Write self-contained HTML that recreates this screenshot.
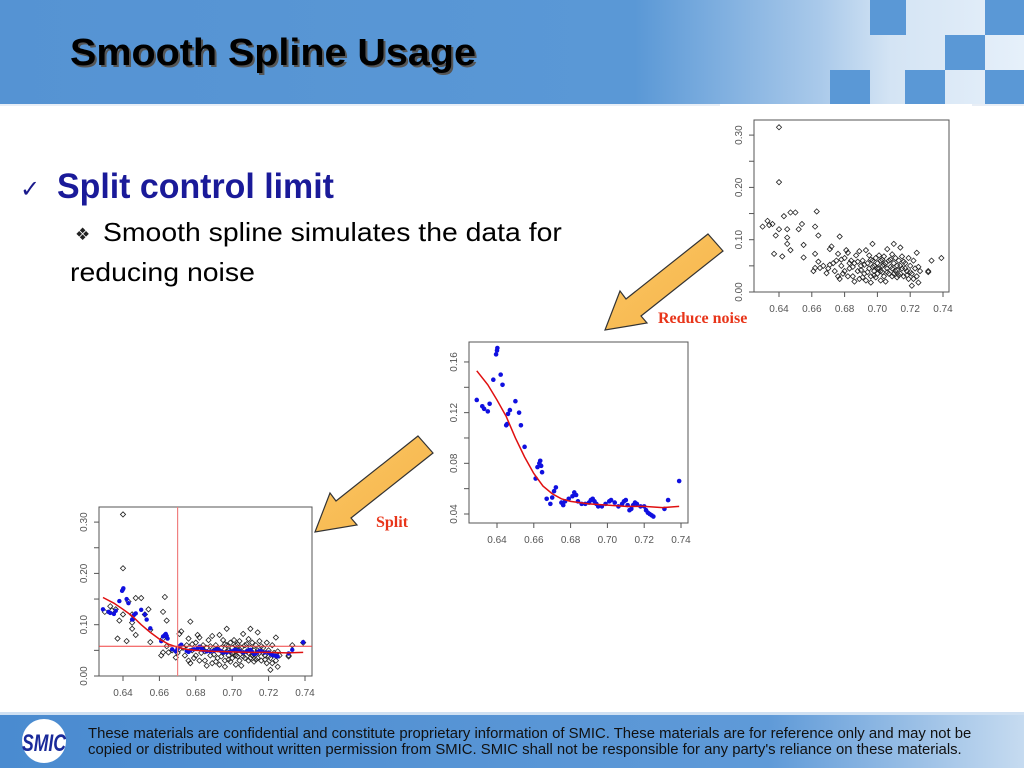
<!DOCTYPE html>
<html><head><meta charset="utf-8">
<style>
html,body{margin:0;padding:0;width:1024px;height:768px;overflow:hidden;background:#fff;font-family:"Liberation Sans",sans-serif;}
#root{position:relative;width:1024px;height:768px;}
</style></head>
<body><div id="root">
<svg width="1024" height="768" style="position:absolute;left:0;top:0">
<defs>
<linearGradient id="hdr" x1="0" x2="1" y1="0" y2="0">
<stop offset="0" stop-color="#5593d3"/><stop offset="0.62" stop-color="#5a98d6"/><stop offset="0.8" stop-color="#a9c9ea"/><stop offset="0.87" stop-color="#d4e4f4"/><stop offset="1" stop-color="#e6f0fa"/></linearGradient>
<linearGradient id="ftr" x1="0" x2="1" y1="0" y2="0">
<stop offset="0" stop-color="#4a8bd0"/><stop offset="0.75" stop-color="#5f9ad8"/><stop offset="1" stop-color="#c6dbf0"/></linearGradient>
<linearGradient id="arr" x1="0" x2="1" y1="0" y2="1"><stop offset="0" stop-color="#fbc563"/><stop offset="1" stop-color="#f6b54a"/></linearGradient>
</defs>
<g>
<rect x="0" y="0" width="1024" height="105" fill="url(#hdr)"/>
<rect x="870" y="0" width="36" height="35" fill="#5a98d6"/>
<rect x="985" y="0" width="39" height="35" fill="#5a98d6"/>
<rect x="945" y="35" width="40" height="35" fill="#5a98d6"/>
<rect x="830" y="70" width="40" height="35" fill="#5a98d6"/>
<rect x="905" y="70" width="40" height="35" fill="#5a98d6"/>
<rect x="985" y="70" width="39" height="35" fill="#5a98d6"/>
<rect x="0" y="104" width="1024" height="2" fill="#e8eef6"/>
</g>
<text class="fit" data-x="72" data-y="67" data-w="406" font-size="38" font-weight="bold" fill="#555">Smooth Spline Usage</text>
<text class="fit" data-x="70" data-y="65" data-w="406" font-size="38" font-weight="bold" fill="#000">Smooth Spline Usage</text>

<text x="20" y="197" font-size="24" fill="#1a1a8c">✓</text>
<text class="fit" data-x="57" data-y="198" data-w="277" font-size="35" font-weight="bold" fill="#1a1a99">Split control limit</text>
<text x="75" y="240" font-size="17" fill="#222">❖</text>
<text class="fit" data-x="103" data-y="241" data-w="459" font-size="26" fill="#000">Smooth spline simulates the data for</text>
<text class="fit" data-x="70" data-y="281" data-w="185" font-size="26" fill="#000">reducing noise</text>

<rect x="720" y="104" width="252" height="226" fill="#fff"/>
<g id="chartTop"></g>
<g id="chartMid"></g>
<g id="chartBot"></g>

<polygon points="708,234 723,251 641,316 647,323 605,330 620,291 626,299" fill="url(#arr)" stroke="#333" stroke-width="1.2"/>
<polygon points="418,436 433,453 351,518 357,525 315,532 330,493 336,501" fill="url(#arr)" stroke="#333" stroke-width="1.2"/>
<text x="658" y="323" font-family="Liberation Serif, serif" font-size="16" font-weight="bold" fill="#e8351a">Reduce noise</text>
<text x="376" y="527" font-family="Liberation Serif, serif" font-size="16" font-weight="bold" fill="#e8351a">Split</text>

<g>
<rect x="0" y="712" width="1024" height="56" fill="url(#ftr)"/>
<rect x="0" y="712" width="1024" height="3" fill="#cfe0f2"/>
<ellipse cx="44" cy="741" rx="22" ry="22" fill="#fff"/>
<text class="fit" data-x="22" data-y="751" data-w="44" font-size="24" font-weight="bold" font-style="italic" fill="#1a2a9a">SMIC</text>
<text class="fit" data-x="88" data-y="738" data-w="884" font-size="15" fill="#111">These materials are confidential and constitute proprietary information of SMIC.  These materials are for reference only and may not be</text>
<text class="fit" data-x="88" data-y="754" data-w="874" font-size="15" fill="#111">copied or distributed without written permission from SMIC.  SMIC shall not be responsible for any party's reliance on these materials.</text>
</g>
</svg>
</div>
<script>
// raw measurement points [x, y]
var rawPoints = [
[0.640,0.315],[0.640,0.210],[0.630,0.125],[0.633,0.136],[0.634,0.128],[0.636,0.130],[0.638,0.108],[0.637,0.073],[0.640,0.120],[0.642,0.068],
[0.643,0.145],[0.645,0.120],[0.645,0.104],[0.645,0.092],[0.647,0.152],[0.647,0.080],[0.650,0.152],[0.652,0.120],[0.654,0.130],[0.655,0.090],
[0.655,0.066],[0.662,0.125],[0.662,0.073],[0.663,0.154],[0.664,0.108],[0.661,0.040],[0.662,0.046],[0.664,0.058],[0.665,0.046],[0.667,0.050],
[0.669,0.036],[0.670,0.045],[0.671,0.082],[0.672,0.087],[0.673,0.055],[0.675,0.060],[0.677,0.106],[0.676,0.073],[0.671,0.052],[0.674,0.040],
[0.676,0.030],[0.677,0.025],[0.678,0.050],[0.679,0.035],[0.680,0.065],[0.681,0.080],[0.682,0.075],[0.683,0.045],[0.684,0.060],[0.685,0.030],
[0.686,0.020],[0.686,0.055],[0.687,0.070],[0.688,0.040],[0.689,0.078],[0.689,0.025],[0.690,0.050],[0.691,0.060],[0.692,0.035],[0.693,0.080],
[0.693,0.022],[0.694,0.055],[0.695,0.045],[0.695,0.070],[0.696,0.030],[0.696,0.018],[0.697,0.092],[0.697,0.060],[0.698,0.040],[0.698,0.050],
[0.699,0.065],[0.699,0.028],[0.700,0.055],[0.700,0.035],[0.701,0.070],[0.701,0.045],[0.702,0.060],[0.702,0.022],[0.703,0.050],[0.703,0.038],
[0.704,0.068],[0.704,0.030],[0.705,0.055],[0.705,0.020],[0.706,0.045],[0.706,0.082],[0.707,0.060],[0.707,0.035],[0.708,0.048],[0.709,0.072],
[0.709,0.030],[0.710,0.092],[0.710,0.055],[0.711,0.040],[0.711,0.065],[0.712,0.028],[0.712,0.050],[0.713,0.060],[0.714,0.085],[0.714,0.035],
[0.715,0.045],[0.715,0.068],[0.716,0.030],[0.717,0.055],[0.718,0.040],[0.719,0.065],[0.720,0.050],[0.721,0.012],[0.721,0.035],[0.722,0.060],
[0.723,0.045],[0.724,0.075],[0.724,0.030],[0.725,0.018],[0.725,0.048],[0.726,0.040],[0.731,0.040],[0.731,0.038],[0.733,0.060],[0.739,0.065],
[0.683,0.055],[0.685,0.048],[0.688,0.058],[0.690,0.042],[0.692,0.052],[0.694,0.038],[0.696,0.062],[0.698,0.032],[0.700,0.045],[0.702,0.040],
[0.704,0.052],[0.706,0.038],[0.708,0.062],[0.710,0.035],[0.712,0.042],[0.714,0.050],[0.716,0.058],[0.718,0.032],[0.720,0.038],[0.722,0.025],
[0.680,0.040],[0.682,0.030],[0.678,0.062],[0.691,0.028],[0.697,0.048],[0.703,0.062],[0.709,0.045],[0.713,0.032],[0.717,0.045],[0.719,0.025]
];
// smoothed points [x, y]
var smoothPoints = [
[0.629,0.130],[0.632,0.125],[0.633,0.123],[0.635,0.121],[0.636,0.127],[0.638,0.146],[0.6395,0.166],[0.640,0.169],[0.6402,0.171],[0.642,0.150],
[0.643,0.142],[0.645,0.110],[0.6455,0.111],[0.646,0.119],[0.647,0.122],[0.650,0.129],[0.652,0.120],[0.653,0.110],[0.655,0.093],[0.661,0.068],
[0.662,0.077],[0.663,0.080],[0.6635,0.082],[0.664,0.078],[0.6645,0.073],[0.667,0.052],[0.669,0.048],[0.670,0.053],[0.671,0.058],[0.672,0.061],
[0.675,0.049],[0.676,0.047],[0.677,0.050],[0.679,0.052],[0.681,0.054],[0.682,0.057],[0.683,0.055],[0.684,0.050],[0.686,0.048],[0.688,0.048],
[0.690,0.049],[0.691,0.051],[0.692,0.052],[0.693,0.050],[0.694,0.048],[0.695,0.046],[0.697,0.046],[0.699,0.048],[0.701,0.050],[0.702,0.051],
[0.704,0.049],[0.706,0.046],[0.708,0.048],[0.709,0.050],[0.710,0.051],[0.711,0.047],[0.712,0.043],[0.713,0.044],[0.714,0.047],[0.715,0.049],
[0.716,0.048],[0.718,0.046],[0.720,0.046],[0.721,0.043],[0.722,0.041],[0.723,0.040],[0.724,0.039],[0.725,0.038],[0.731,0.044],[0.733,0.051],[0.739,0.066]
];
// fitted smooth spline
var splineX = [0.629,0.635,0.640,0.645,0.650,0.655,0.660,0.665,0.670,0.675,0.680,0.690,0.700,0.710,0.720,0.730,0.739];
var splineY = [0.153,0.142,0.130,0.117,0.100,0.085,0.072,0.062,0.056,0.052,0.050,0.048,0.047,0.046,0.046,0.045,0.046];
var xTicks = [0.64,0.66,0.68,0.70,0.72,0.74];
var yTicksWide = [0.00,0.10,0.20,0.30];
var yTicksMid = [0.04,0.08,0.12,0.16];
var splitX = 0.67;
var splitY = 0.058;

// fit text horizontally to measured widths
Array.prototype.forEach.call(document.querySelectorAll('text.fit'), function(t){
  var w = t.getComputedTextLength();
  var target = parseFloat(t.getAttribute('data-w'));
  var s = target / w;
  t.setAttribute('transform','translate('+t.getAttribute('data-x')+','+t.getAttribute('data-y')+') scale('+s+',1)');
});

var NS = "http://www.w3.org/2000/svg";
function mk(tag, attrs, parent){var e=document.createElementNS(NS,tag);for(var k in attrs)e.setAttribute(k,attrs[k]);parent.appendChild(e);return e;}
function axes(g, c){
  function sx(v){return c.x0+(v-c.xa)*c.xs;}
  function sy(v){return c.y0-(v-c.ya)*c.ys;}
  var box=mk('rect',{x:c.bx,y:c.by,width:c.bw,height:c.bh,fill:'none',stroke:'#555','stroke-width':1},g);
  
  
  var yb=c.by+c.bh;
  for(var v=c.minorY0; v<=c.minorY1+1e-9; v+=c.minorStep){
    var t=mk('line',{x1:c.bx-5,x2:c.bx,y1:sy(v),y2:sy(v),stroke:'#555'},g);
    
    
  }
  c.yt.forEach(function(v){
    var tx=mk('text',{x:c.bx-12,y:sy(v),'font-size':10,fill:'#555','text-anchor':'middle',transform:'rotate(-90 '+(c.bx-12)+' '+sy(v)+')'},g);
    tx.textContent=v.toFixed(2);
    
    
  });
  xTicks.forEach(function(v){
    var t=mk('line',{x1:sx(v),x2:sx(v),y1:yb,y2:yb+5,stroke:'#555'},g);
    
    
    var tx=mk('text',{x:sx(v),y:yb+20,'font-size':10,fill:'#555','text-anchor':'middle'},g);
    tx.textContent=v.toFixed(2);
    
    
  });
  return {sx:sx,sy:sy};
}
function rawMarks(g,s){
  rawPoints.forEach(function(p){
    var x=s.sx(p[0]),y=s.sy(p[1]);
    var d=mk('polygon',{points:(x)+','+(y-2.6)+' '+(x+2.6)+','+y+' '+x+','+(y+2.6)+' '+(x-2.6)+','+y,fill:'none',stroke:'#222','stroke-width':0.8},g);
    
    
  });
}
function smoothMarks(g,s,r){
  smoothPoints.forEach(function(p){
    var c=mk('circle',{cx:s.sx(p[0]),cy:s.sy(p[1]),r:r,fill:'#1010e0'},g);
    
    
  });
}
function splineLine(g,s){
  var pts=splineX.map(function(v,i){return s.sx(v)+','+s.sy(splineY[i]);}).join(' ');
  var l=mk('polyline',{points:pts,fill:'none',stroke:'#e01010','stroke-width':1.5},g);
  
  
}
var gT=document.getElementById('chartTop');
var sT=axes(gT,{bx:754,by:120,bw:195,bh:172,x0:779,xa:0.64,xs:1640,y0:292,ya:0,ys:523,yt:yTicksWide,minorY0:0,minorY1:0.3,minorStep:0.05});
rawMarks(gT,sT);
var gM=document.getElementById('chartMid');
var sM=axes(gM,{bx:469,by:342,bw:219,bh:181,x0:497,xa:0.64,xs:1840,y0:514,ya:0.04,ys:1267,yt:yTicksMid,minorY0:0.04,minorY1:0.16,minorStep:0.02});
smoothMarks(gM,sM,2.3);
splineLine(gM,sM);
var gB=document.getElementById('chartBot');
var sB=axes(gB,{bx:99,by:507,bw:213,bh:169,x0:123,xa:0.64,xs:1820,y0:676,ya:0,ys:513,yt:yTicksWide,minorY0:0,minorY1:0.3,minorStep:0.05});
rawMarks(gB,sB);
smoothMarks(gB,sB,2.2);
splineLine(gB,sB);
var vl=mk('line',{x1:sB.sx(splitX),x2:sB.sx(splitX),y1:507,y2:676,stroke:'#f08080','stroke-width':1.2},gB);


var hl=mk('line',{x1:99,x2:312,y1:sB.sy(splitY),y2:sB.sy(splitY),stroke:'#f04040','stroke-width':1},gB);


</script>
</body></html>
